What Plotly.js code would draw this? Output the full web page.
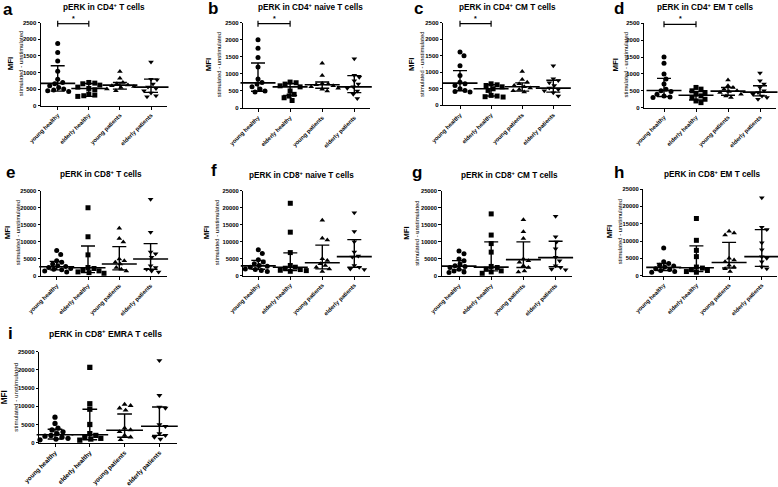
<!DOCTYPE html>
<html>
<head>
<meta charset="utf-8">
<script src="https://cdn.plot.ly/plotly-3.0.1.min.js"></script>
<style>
  body { margin: 0; background: #fff; }
  #chart { width: 778px; height: 487px; }
</style>
</head>
<body>
<div id="chart"></div>
<script>
var groups = ['young healthy', 'elderly healthy', 'young patients', 'elderly patients'];
var letters = ['a', 'b', 'c', 'd', 'e', 'f', 'g', 'h', 'i'];
var titles = [
  'pERK in CD4<sup>+</sup> T cells',
  'pERK in CD4<sup>+</sup> naive T cells',
  'pERK in CD4<sup>+</sup> CM T cells',
  'pERK in CD4<sup>+</sup> EM T cells',
  'pERK in CD8<sup>+</sup> T cells',
  'pERK in CD8<sup>+</sup> naive T cells',
  'pERK in CD8<sup>+</sup> CM T cells',
  'pERK in CD8<sup>+</sup> EM T cells',
  'pERK in CD8<sup>+</sup> EMRA T cells'
];
var yMax = [2500, 2500, 2500, 2500, 25000, 25000, 25000, 25000, 25000];
var yStep = [500, 500, 500, 500, 5000, 5000, 5000, 5000, 5000];

// points per group: young healthy, elderly healthy, young patients, elderly patients
var ptsA = [[1870,1600,1350,1040,800,700,660,600,550,500,470,450,430],
            [700,680,660,620,560,520,480,350,320,300,280],
            [1030,830,700,660,620,600,580,550,500,450],
            [1320,800,780,650,560,520,450,380,300,270]];
var medA = [673, 520, 620, 560], q1A = [440, 280, 500, 400], q3A = [1205, 670, 700, 800];

var ptsB = [[2000,1750,1480,1200,850,750,700,620,560,500,470],
            [760,740,700,650,620,500,400,350,300,220],
            [1310,950,720,700,680,650,620,580,550,500],
            [1440,960,900,800,700,620,580,500,400,280]];
var medB = [735, 620, 680, 620], q1B = [490, 370, 580, 450], q3B = [1320, 720, 760, 950];

var ptsC = [[1610,1500,1200,900,700,650,600,500,450,420,400],
            [650,620,600,560,500,450,300,280,260,250],
            [1020,780,700,650,600,560,520,480,440,400],
            [1200,800,750,680,600,520,480,440,380,280]];
var medC = [670, 500, 560, 520], q1C = [440, 280, 430, 400], q3C = [1050, 620, 680, 760];

var ptsD = [[1500,1320,1000,850,700,550,500,480,400,350,320,300],
            [600,550,500,450,400,350,300,250,200,150],
            [820,650,600,550,500,480,450,400,350,300],
            [1030,800,700,600,500,450,400,350,300,250]];
var medD = [510, 370, 490, 460], q1D = [330, 230, 370, 350], q3D = [870, 480, 600, 650];

var ptsE = [[7500,6300,4500,4000,3500,3000,2800,2500,2200,2000,1800,1500,1200],
            [20000,11500,6200,2500,2200,1800,1500,1200,1000,800],
            [14000,11000,10000,5000,4500,4000,3500,2500,2000,1500],
            [22500,12800,7000,6500,5500,3000,2500,2000,1500,1200]];
var medE = [2700, 2400, 3500, 5000], q1E = [1800, 1000, 1800, 2000], q3E = [4300, 8800, 8600, 9500];

var ptsF = [[7600,6500,4700,4000,3500,3000,2800,2500,2000,1800,1500,1200],
            [21300,12800,6800,3000,2500,2200,1800,1600,1500,1300],
            [16300,11000,10500,5000,4500,3500,3000,2500,2000,1200],
            [18500,13000,10000,7000,5800,5500,3000,2500,2000,1800]];
var medF = [2900, 2500, 3800, 5600], q1F = [1900, 1500, 2000, 2500], q3F = [4500, 6700, 9000, 10600];

var ptsG = [[7300,6500,5000,4500,3500,3000,2800,2500,2000,1500,1200,1000],
            [18200,12000,9500,7000,2800,2500,2000,1500,1200,800],
            [16500,13000,11000,5000,4500,4000,3000,2500,1500,1200],
            [17500,11500,10000,8000,5500,4500,3000,2500,2000,1800]];
var medG = [2900, 2600, 4800, 5400], q1G = [1800, 1500, 2500, 2700], q3G = [4500, 10000, 10000, 10200];

var ptsH = [[8000,4000,3500,3000,2800,2500,2000,1800,1500,1200,1000],
            [16500,10200,7300,5500,2500,2200,1800,1500,1200,1000],
            [12800,12300,11700,5000,4500,4000,3000,2500,2000,1200],
            [22500,14000,13300,9500,7500,5500,5000,4000,2500,2000]];
var medH = [2400, 2300, 3800, 5500], q1H = [1500, 1200, 2200, 2700], q3H = [3500, 8600, 9600, 13300];

var ptsI = [[7000,5300,4000,3500,3000,2500,2000,1800,1500,1200,1000,800],
            [20700,10700,9200,5000,2500,2000,1500,1200,1000,700],
            [10500,10200,9500,8900,4000,3500,3000,2000,1500,800],
            [22600,13000,9800,9500,5000,4500,2500,2000,1500,1000]];
var medI = [2200, 2200, 3400, 4500], q1I = [1000, 800, 1500, 2000], q3I = [3700, 9200, 7900, 9800];

// significant pair (young vs elderly healthy) in panels a-d
var sigPanels = [0, 1, 2, 3];
var sigLevel = 2470;

var panels = [
  [ptsA, medA, q1A, q3A], [ptsB, medB, q1B, q3B], [ptsC, medC, q1C, q3C],
  [ptsD, medD, q1D, q3D], [ptsE, medE, q1E, q3E], [ptsF, medF, q1F, q3F],
  [ptsG, medG, q1G, q3G], [ptsH, medH, q1H, q3H], [ptsI, medI, q1I, q3I]
];

// pixel geometry of each panel: y axis x, first category x, category spacing, axis end, top, bottom
var geo = [
  {l: 41,    c0: 57.7,  dx: 31.1, r: 167, t: 22.7,  b: 105.7, tx: 104, ty: 7,   lx: 8,   ly: 10,  mx: 15,   ty2: 6,   s: 1},
  {l: 243.3, c0: 258,   dx: 32.1, r: 370, t: 22.7,  b: 108,   tx: 310, ty: 7,   lx: 213, ly: 8,   mx: 213,  ty2: 6,   s: 1},
  {l: 443.3, c0: 460,   dx: 31.1, r: 571, t: 22.7,  b: 105.3, tx: 507, ty: 7,   lx: 418, ly: 9,   mx: 416,  ty2: 6,   s: 1},
  {l: 644.3, c0: 664,   dx: 32,   r: 776, t: 23.3,  b: 107.7, tx: 705, ty: 7,   lx: 619, ly: 8,   mx: 619,  ty2: 6,   s: 1},
  {l: 41,    c0: 56.7,  dx: 31.3, r: 167, t: 190.7, b: 276,   tx: 101, ty: 174, lx: 10,  ly: 172, mx: 12,   ty2: 5.8, s: 1},
  {l: 243.3, c0: 258.3, dx: 32,   r: 370, t: 190.7, b: 275.7, tx: 301, ty: 175, lx: 214, ly: 171, mx: 211,  ty2: 5.8, s: 1},
  {l: 441.7, c0: 459,   dx: 32.2, r: 572, t: 190.7, b: 276,   tx: 509, ty: 175, lx: 417, ly: 172, mx: 411.5, ty2: 5.8, s: 1},
  {l: 643.3, c0: 663.7, dx: 32.7, r: 777, t: 189,   b: 275.7, tx: 712, ty: 174, lx: 619, ly: 172, mx: 614,  ty2: 5.8, s: 1},
  {l: 39.3,  c0: 55,    dx: 34.8, r: 177, t: 351.7, b: 442.7, tx: 106, ty: 333, lx: 10,  ly: 333, mx: 9.5,  ty2: 6,   s: 1.05}
];

var W = 778, H = 487;
var symbols = ['circle', 'square', 'triangle-up', 'triangle-down'];
var fontFam = '"Liberation Sans", Arial, sans-serif';

// simple beeswarm so dots sit side by side like in a dot plot
function swarm(vals, g, pxV, pxC, d) {
  var placed = [], xs = [];
  vals.forEach(function (v) {
    var py = v * pxV, off = 0;
    for (var k = 0; k < 60; k++) {
      var o = (k % 2 ? 1 : -1) * Math.ceil(k / 2);
      var hit = placed.some(function (p) {
        var ddx = p[0] - o, ddy = p[1] - py;
        return ddx * ddx + ddy * ddy < d * d;
      });
      if (!hit) { off = o; break; }
    }
    placed.push([off, py]);
    xs.push(g + off / pxC);
  });
  return xs;
}

var data = [];
var layout = {
  width: W, height: H,
  margin: {l: 0, r: 0, t: 0, b: 0},
  paper_bgcolor: '#fff',
  plot_bgcolor: 'rgba(0,0,0,0)',
  showlegend: false,
  font: {family: fontFam, color: '#000'},
  annotations: [],
  shapes: []
};

panels.forEach(function (p, k) {
  var g = geo[k], n = k + 1, sfx = k ? String(n) : '';
  var xa = 'x' + sfx, ya = 'y' + sfx;
  var pxV = (g.b - g.t) / yMax[k];
  var y0 = 1 - g.b / H, y1 = 1 - g.t / H;

  p[0].forEach(function (vals, gi) {
    data.push({
      type: 'scatter', mode: 'markers', xaxis: xa, yaxis: ya,
      x: swarm(vals, gi, pxV, g.dx, 5.2 * g.s), y: vals,
      marker: {symbol: symbols[gi], size: 5 * g.s, color: '#000'},
      hoverinfo: 'y', cliponaxis: false
    });
  });

  // median line with interquartile range whiskers
  data.push({
    type: 'scatter', mode: 'markers', xaxis: xa, yaxis: ya,
    x: [0, 1, 2, 3], y: p[1],
    marker: {symbol: 'line-ew', size: 25 * g.s, line: {width: 1.6, color: '#000'}},
    error_y: {
      type: 'data', symmetric: false,
      array: p[3].map(function (v, i) { return v - p[1][i]; }),
      arrayminus: p[1].map(function (v, i) { return v - p[2][i]; }),
      color: '#000', thickness: 1.4, width: 7 * g.s
    },
    hoverinfo: 'skip', cliponaxis: false
  });

  layout['xaxis' + sfx] = {
    domain: [g.l / W, g.r / W], anchor: ya, color: '#000',
    range: [(g.l - g.c0) / g.dx, (g.r - g.c0) / g.dx],
    tickvals: [0, 1, 2, 3], ticktext: groups, tickangle: -45,
    ticks: 'outside', ticklen: 3, tickwidth: 1, tickcolor: '#000',
    showline: true, linecolor: '#000', linewidth: 1,
    showgrid: false, zeroline: false, fixedrange: true,
    tickfont: {size: k === 8 ? 6.3 : 5.8, weight: 'bold', color: '#000'}
  };
  layout['yaxis' + sfx] = {
    domain: [y0, y1], anchor: xa, color: '#000',
    range: [0, yMax[k]], dtick: yStep[k], tick0: 0, tickformat: 'd',
    ticks: 'outside', ticklen: 2.5, tickwidth: 1, tickcolor: '#000',
    showline: true, linecolor: '#000', linewidth: 1,
    showgrid: false, zeroline: false, fixedrange: true,
    tickfont: {size: g.ty2, weight: 'bold', color: '#000'}
  };

  layout.annotations.push({
    xref: 'paper', yref: 'paper', x: g.tx / W, y: 1 - g.ty / H,
    xanchor: 'center', yanchor: 'middle', showarrow: false,
    text: titles[k], font: {size: k === 8 ? 8.6 : 8.2, weight: 'bold'}
  });
  layout.annotations.push({
    xref: 'paper', yref: 'paper', x: g.lx / W, y: 1 - g.ly / H,
    xanchor: 'center', yanchor: 'middle', showarrow: false,
    text: '<b>' + letters[k] + '</b>', font: {size: 17}
  });
  layout.annotations.push({
    xref: 'paper', yref: 'paper', x: g.mx / W, y: (y0 + y1) / 2,
    xanchor: 'center', yanchor: 'middle', showarrow: false, textangle: -90,
    text: '<b>MFI</b><br><span style="font-size:' + (5.9 * g.s).toFixed(1) + 'px">stimulated - unstimulated</span>',
    font: {size: 7.8 * g.s}
  });

  if (sigPanels.indexOf(k) >= 0) {
    var sy = y0 + (sigLevel / yMax[k]) * (y1 - y0), tk = 3 / H;
    var ln = {color: '#000', width: 1.2};
    layout.shapes.push({type: 'line', xref: xa, yref: 'paper', x0: 0, x1: 1, y0: sy, y1: sy, line: ln});
    layout.shapes.push({type: 'line', xref: xa, yref: 'paper', x0: 0, x1: 0, y0: sy - tk, y1: sy + tk, line: ln});
    layout.shapes.push({type: 'line', xref: xa, yref: 'paper', x0: 1, x1: 1, y0: sy - tk, y1: sy + tk, line: ln});
    layout.annotations.push({
      xref: xa, yref: 'paper', x: 0.5, y: sy, yanchor: 'bottom', yshift: 0,
      showarrow: false, text: '*', font: {size: 7, weight: 'bold'}
    });
  }
});

Plotly.newPlot('chart', data, layout, {displayModeBar: false, staticPlot: true});
</script>
</body>
</html>
